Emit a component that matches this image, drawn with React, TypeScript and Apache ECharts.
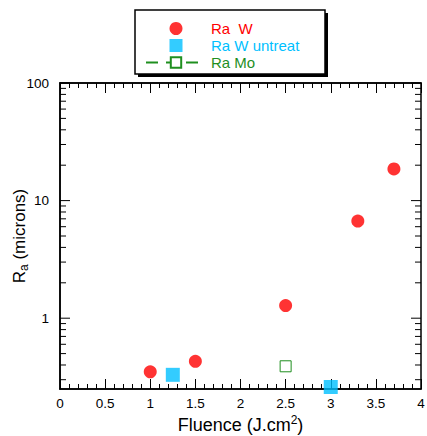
import React, { useEffect, useRef } from "react";
import * as echarts from "echarts";

const raW: [number, number][] = [[1.0, 0.35], [1.5, 0.43], [2.5, 1.28], [3.3, 6.7], [3.7, 18.6]];
const raWUntreat: [number, number][] = [[1.25, 0.33], [3.0, 0.26]];
const raMo: [number, number][] = [[2.5, 0.39]];
const yMajorTicks = [1, 10, 100];
const yMinorTicks = [0.3, 0.4, 0.5, 0.6, 0.7, 0.8, 0.9, 2, 3, 4, 5, 6, 7, 8, 9, 20, 30, 40, 50, 60, 70, 80, 90];

const RED = "#ff0000";
const BLUE = "#00bfff";
const GREEN = "#1f8f1f";
const FONT = "Liberation Sans";

export default function App() {
  const ref = useRef<HTMLDivElement>(null);
  useEffect(() => {
    if (!ref.current) return;
    const chart = echarts.init(ref.current, null, { renderer: "svg" });
    const tickData: number[][] = [];
    for (const side of [0, 4]) {
      yMajorTicks.forEach((v) => tickData.push([side, v, 10]));
      yMinorTicks.forEach((v) => tickData.push([side, v, 6]));
    }
    const labelStyle = { fontSize: 13.5, color: "#000", fontFamily: FONT };
    chart.setOption({
      animation: false,
      textStyle: { fontFamily: FONT },
      grid: {
        left: 60, right: 6, top: 83, bottom: 47,
        containLabel: false, outerBoundsMode: "none",
        show: true, borderColor: "#000", borderWidth: 1.5, backgroundColor: "transparent",
      },
      graphic: [
        { type: "rect", z: -10, shape: { x: 138, y: 13, width: 190, height: 64 }, style: { fill: "#000" } },
        { type: "rect", z: -9, shape: { x: 135, y: 10, width: 190, height: 64 }, style: { fill: "#fff", stroke: "#000", lineWidth: 1.5 } },
      ],
      legend: {
        left: 145, top: 20, orient: "vertical", padding: 0, itemGap: 0,
        itemWidth: 60, itemHeight: 13,
        textStyle: { fontSize: 15, fontFamily: FONT, lineHeight: 17 },
        data: [
          { name: "Ra  W", icon: "circle", textStyle: { color: RED } },
          { name: "Ra W untreat", icon: "path://M0,0H10V10H0Z", textStyle: { color: BLUE } },
          { name: "Ra Mo", textStyle: { color: GREEN } },
        ],
      },
      xAxis: [
        {
          type: "value", min: 0, max: 4, interval: 0.5, position: "bottom",
          name: "Fluence (J.cm{sup|2})", nameLocation: "middle", nameGap: 25, nameMoveOverlap: false,
          nameTextStyle: {
            fontSize: 18, color: "#000", fontFamily: FONT,
            rich: { sup: { fontSize: 12, verticalAlign: "top", padding: [0, 0, 9, 0], color: "#000", fontFamily: FONT } },
          },
          axisLine: { show: true, lineStyle: { color: "#000", width: 1.5 } },
          axisTick: { show: true, inside: true, length: 10, lineStyle: { color: "#000", width: 1 } },
          minorTick: { show: true, splitNumber: 5, length: 5, lineStyle: { color: "#000", width: 1 } },
          axisLabel: {
            ...labelStyle, margin: 7,
            formatter: (v: number) => String(v),
          },
          splitLine: { show: false },
        },
        {
          type: "value", min: 0, max: 4, interval: 0.5, position: "top",
          axisLine: { show: true, lineStyle: { color: "#000", width: 1.5 } },
          axisTick: { show: true, inside: true, length: 10, lineStyle: { color: "#000", width: 1 } },
          minorTick: { show: true, splitNumber: 5, length: 5, lineStyle: { color: "#000", width: 1 } },
          axisLabel: { show: false },
          splitLine: { show: false },
        },
      ],
      yAxis: [
        {
          type: "log", min: 0.25, max: 100, logBase: 10,
          name: "R{sub|a} (microns)", nameLocation: "middle", nameGap: 30, nameRotate: 90, nameMoveOverlap: false,
          nameTextStyle: {
            fontSize: 17, color: "#000", fontFamily: FONT,
            rich: { sub: { fontSize: 12, verticalAlign: "bottom", padding: [9, 0, 0, 0], color: "#000", fontFamily: FONT } },
          },
          axisLine: { show: true, lineStyle: { color: "#000", width: 1.5 } },
          axisTick: { show: false },
          axisLabel: {
            ...labelStyle, margin: 11,
            formatter: (v: number) => {
              const r = Math.round(v);
              return Math.abs(v - r) < 1e-6 && yMajorTicks.includes(r) ? String(r) : "";
            },
          },
          splitLine: { show: false },
        },
      ],
      series: [
        {
          name: "Ra  W", type: "scatter", data: raW, symbol: "circle", symbolSize: 13,
          itemStyle: { color: RED },
        },
        {
          name: "Ra W untreat", type: "scatter", data: raWUntreat, symbol: "rect", symbolSize: 14,
          itemStyle: { color: BLUE },
        },
        {
          name: "Ra Mo", type: "line", data: raMo, symbol: "rect", symbolSize: 11,
          showSymbol: true,
          lineStyle: { color: GREEN, width: 1, type: [12, 8] },
          itemStyle: { color: "#fff", borderColor: GREEN, borderWidth: 1 },
        },
        {
          type: "scatter", data: raMo, symbol: "circle", symbolSize: 2, silent: true,
          itemStyle: { color: GREEN },
        },
        {
          type: "custom", silent: true, data: tickData, clip: false,
          renderItem: (_params: any, api: any) => {
            const side = api.value(0);
            const v = api.value(1);
            const len = api.value(2);
            const p = api.coord([side, v]);
            const dir = side === 0 ? 1 : -1;
            return {
              type: "line",
              shape: { x1: p[0], y1: p[1], x2: p[0] + dir * len, y2: p[1] },
              style: { stroke: "#000", lineWidth: 1 },
            };
          },
        },
      ],
    });
    return () => chart.dispose();
  }, []);
  return <div ref={ref} style={{ width: 427, height: 436, position: "absolute", left: 0, top: 0 }} />;
}
